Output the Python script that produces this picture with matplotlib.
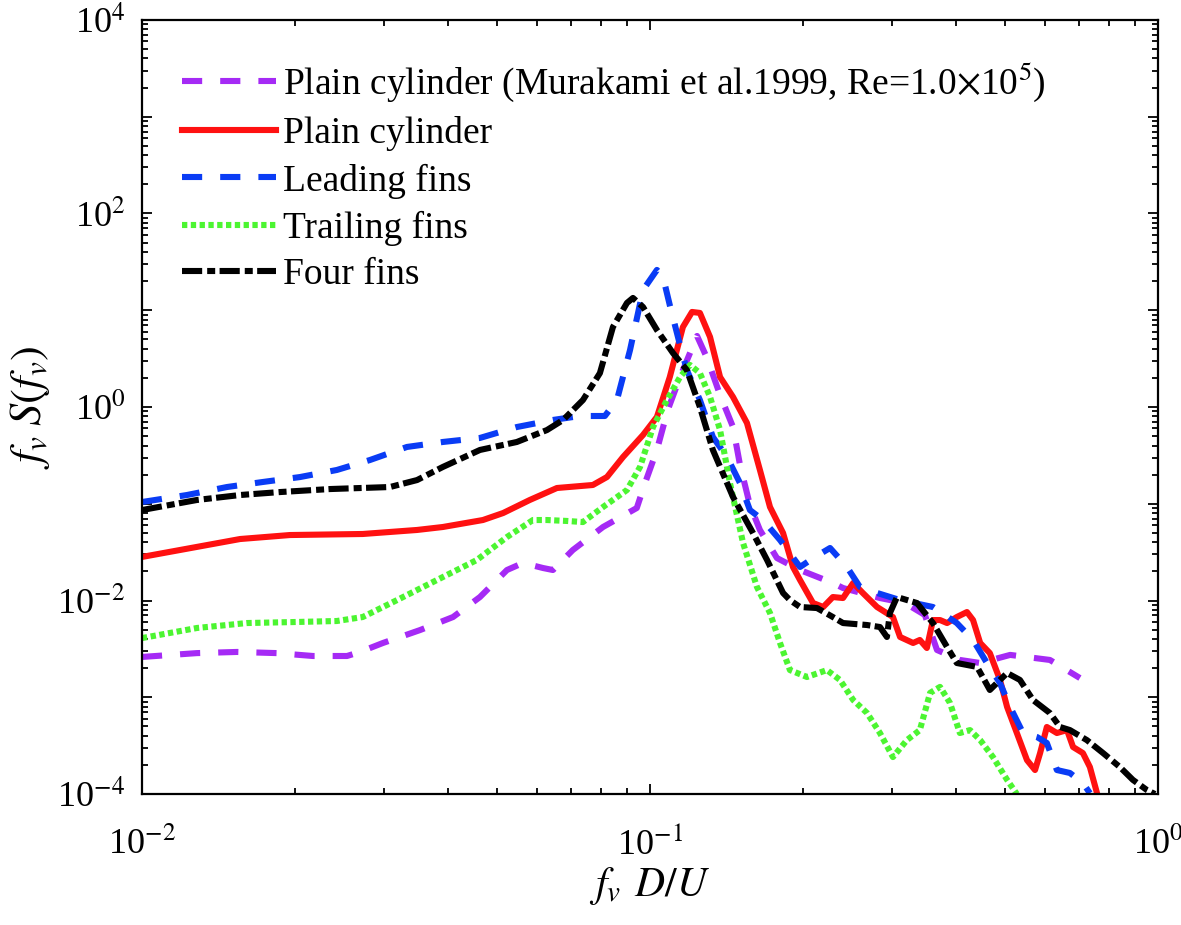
import matplotlib
matplotlib.use("Agg")
import matplotlib.pyplot as plt
from matplotlib.ticker import LogLocator, FuncFormatter, NullFormatter
import numpy as np

plt.rcParams['font.family'] = ['Liberation Serif', 'DejaVu Serif']
plt.rcParams['mathtext.fontset'] = 'stix'

# ---- data ----
murakami_f = [0.01, 0.01283, 0.01538, 0.01844, 0.02171, 0.02533, 0.02687, 0.02981, 0.03527, 0.04096,
              0.04627, 0.0523, 0.05623, 0.06156, 0.06442, 0.0705, 0.08083, 0.0942, 0.0978, 0.1032,
              0.1084, 0.1146, 0.1238, 0.1295, 0.1374, 0.1457, 0.1504, 0.1573, 0.1646, 0.1778,
              0.1974, 0.2291, 0.2399, 0.2836, 0.3177, 0.3477, 0.3673, 0.4074, 0.4467, 0.5117,
              0.6128, 0.702]
murakami_s = [0.00261, 0.00286, 0.00294, 0.00286, 0.00267, 0.00267, 0.00294, 0.00364, 0.00495, 0.00675,
              0.01086, 0.02066, 0.02443, 0.02168, 0.02066, 0.03327, 0.0575, 0.0904, 0.1637, 0.3597,
              0.931, 2.04, 5.42, 3.21, 1.33, 0.621, 0.2518, 0.097, 0.0536, 0.02748,
              0.02066, 0.01517, 0.01346, 0.01061, 0.00942, 0.00708, 0.00308, 0.00243, 0.00226, 0.00274,
              0.00243, 0.00158]

plain_f = [0.01, 0.0156, 0.01955, 0.0272, 0.0348, 0.0391, 0.0469, 0.0514, 0.058, 0.0656,
           0.0772, 0.0823, 0.0885, 0.0969, 0.1032, 0.1094, 0.1161, 0.121, 0.1254, 0.1313,
           0.1374, 0.1457, 0.1552, 0.1646, 0.1723, 0.1828, 0.1912, 0.1974, 0.2094, 0.2193,
           0.2291, 0.2399, 0.2512, 0.2624, 0.2799, 0.3008, 0.3107, 0.3296, 0.3398, 0.3508,
           0.3606, 0.3724, 0.3845, 0.4018, 0.4207, 0.4325, 0.4467, 0.4667, 0.4887, 0.5047,
           0.5275, 0.5523, 0.5728, 0.5861, 0.6043, 0.6324, 0.6622, 0.6806, 0.7116, 0.7345,
           0.7586]
plain_s = [0.0282, 0.0432, 0.0475, 0.0487, 0.0536, 0.0575, 0.0679, 0.0802, 0.1094, 0.1455,
           0.1563, 0.189, 0.304, 0.514, 0.789, 2.04, 6.71, 9.6, 9.38, 5.29,
           2.04, 1.27, 0.684, 0.2234, 0.0925, 0.0499, 0.0222, 0.01629, 0.00942, 0.00857,
           0.01086, 0.01061, 0.01517, 0.01197, 0.00857, 0.00675, 0.0042, 0.00364, 0.00391, 0.00323,
           0.00628, 0.00628, 0.00585, 0.00675, 0.0076, 0.00628, 0.00364, 0.00286, 0.00151, 0.000793,
           0.000427, 0.000224, 0.000177, 0.000265, 0.000493, 0.000427, 0.000458, 0.000306, 0.000265, 0.00019,
           0.000102]

leading_f = [0.01, 0.01226, 0.0147, 0.0173, 0.02047, 0.02419, 0.0281, 0.03324, 0.0391, 0.04627,
             0.0547, 0.06442, 0.07281, 0.08151, 0.0861, 0.09136, 0.0969, 0.1032, 0.1061, 0.1094,
             0.1146, 0.1182, 0.1254, 0.133, 0.1418, 0.1504, 0.1573, 0.1669, 0.1803, 0.1974,
             0.2113, 0.2262, 0.2442, 0.259, 0.2799, 0.3107, 0.3606, 0.4018, 0.4325, 0.4606,
             0.4887, 0.5117, 0.5425, 0.5781, 0.6043, 0.6324, 0.6709, 0.7116, 0.7345]
leading_s = [0.1042, 0.1231, 0.1489, 0.1679, 0.1888, 0.2234, 0.2831, 0.3864, 0.435, 0.4786,
             0.621, 0.7345, 0.8072, 0.8072, 1.18, 3.88, 16.2, 26.1, 22.1, 11.3,
             4.37, 2.41, 1.18, 0.4898, 0.304, 0.1637, 0.0861, 0.0679, 0.0422, 0.0222,
             0.0282, 0.0349, 0.0222, 0.0138, 0.01197, 0.0101, 0.00857, 0.00585, 0.00391, 0.00226,
             0.0014, 0.000793, 0.000427, 0.000388, 0.000337, 0.000177, 0.000165, 0.00013, 0.000102]

trailing_f = [0.01, 0.01283, 0.01609, 0.02018, 0.02419, 0.0272, 0.03177, 0.03808, 0.04563, 0.0523,
              0.05884, 0.0627, 0.06863, 0.0738, 0.08083, 0.0901, 0.09559, 0.1014, 0.108, 0.1146,
              0.1199, 0.1254, 0.1313, 0.1374, 0.1437, 0.1525, 0.1624, 0.1723, 0.1803, 0.1886,
              0.2037, 0.223, 0.2366, 0.2512, 0.2675, 0.2836, 0.3008, 0.3205, 0.3398, 0.356,
              0.3724, 0.3896, 0.4074, 0.4266, 0.4467, 0.4734, 0.5047, 0.5275]
trailing_s = [0.00409, 0.0052, 0.00585, 0.006, 0.00614, 0.00675, 0.0101, 0.01629, 0.02624, 0.0453,
              0.0679, 0.0679, 0.0664, 0.0647, 0.0925, 0.1387, 0.2399, 0.621, 1.18, 2.04,
              2.72, 2.24, 1.27, 0.578, 0.1637, 0.0393, 0.0138, 0.00743, 0.00364, 0.00191,
              0.00162, 0.00191, 0.00151, 0.000937, 0.000687, 0.000427, 0.000241, 0.000361, 0.000458, 0.00111,
              0.00128, 0.000873, 0.000427, 0.000458, 0.000361, 0.000241, 0.00014, 0.0001]

four_f = [0.01, 0.01283, 0.0156, 0.01869, 0.02344, 0.03077, 0.0348, 0.0391, 0.04627, 0.0547,
          0.0627, 0.06745, 0.0738, 0.0797, 0.08455, 0.0901, 0.09258, 0.0969, 0.1032, 0.111,
          0.1182, 0.1254, 0.133, 0.1457, 0.1595, 0.17, 0.1828, 0.1886, 0.1974, 0.2132,
          0.2291, 0.2399, 0.2675, 0.2836, 0.2927, 0.2967, 0.3064, 0.3354, 0.3606, 0.3845,
          0.4018, 0.4404, 0.4667, 0.5047, 0.5349, 0.5675, 0.6128, 0.6414, 0.6709, 0.7244,
          0.7798, 0.8414, 0.8926, 0.951, 0.9865]
four_s = [0.0861, 0.1094, 0.1231, 0.1321, 0.1419, 0.1489, 0.1758, 0.2399, 0.3597, 0.435,
          0.578, 0.7345, 1.18, 2.24, 6.71, 11.9, 13.4, 10.8, 6.25, 3.61,
          2.41, 1.0, 0.3597, 0.1175, 0.0499, 0.02624, 0.01197, 0.0101, 0.00857, 0.00836,
          0.00675, 0.00585, 0.00558, 0.00532, 0.0042, 0.00743, 0.01086, 0.00942, 0.00585, 0.0033,
          0.00226, 0.00206, 0.00119, 0.00178, 0.00151, 0.000937, 0.000687, 0.000493, 0.000458, 0.000361,
          0.000265, 0.00019, 0.00014, 0.00011, 0.0001]

labels = ["Plain cylinder (Murakami et al.1999, Re=1.0$\\times$10$^{5}$)",
          "Plain cylinder", "Leading fins", "Trailing fins", "Four fins"]

# ---- figure ----
fig = plt.figure(figsize=(11.81, 9.25), dpi=100)
ax = fig.add_axes([0.1202, 0.1416, 0.8603, 0.8368])

lw = 4.4
ax.plot(murakami_f, murakami_s, color='#A52AF5', lw=lw, dashes=(3.3, 2.95), label=labels[0])
ax.plot(plain_f, plain_s, color='#FF1111', lw=lw, ls='-', label=labels[1])
ax.plot(leading_f, leading_s, color='#0A3CF5', lw=lw, dashes=(3.3, 2.95), label=labels[2])
ax.plot(trailing_f, trailing_s, color='#4CF531', lw=lw, dashes=(0.87, 0.57), label=labels[3])
ax.plot(four_f, four_s, color='black', lw=lw, dashes=(3.3, 0.82, 1.31, 0.72), label=labels[4])

ax.set_xscale('log')
ax.set_yscale('log')
ax.set_xlim(1e-2, 1)
ax.set_ylim(1e-4, 1e4)

ax.xaxis.set_major_locator(LogLocator(base=10, numticks=10))
ax.xaxis.set_minor_locator(LogLocator(base=10, subs=np.arange(2, 10), numticks=20))
ax.yaxis.set_major_locator(LogLocator(base=10, numticks=20))
ax.yaxis.set_minor_locator(LogLocator(base=10, subs=np.arange(2, 10), numticks=40))

def xfmt(v, pos):
    e = int(round(np.log10(v)))
    return "10$^{%d}$" % e

def yfmt(v, pos):
    e = int(round(np.log10(v)))
    if e % 2 != 0:
        return ""
    return "10$^{%d}$" % e

ax.xaxis.set_major_formatter(FuncFormatter(xfmt))
ax.yaxis.set_major_formatter(FuncFormatter(yfmt))
ax.xaxis.set_minor_formatter(NullFormatter())
ax.yaxis.set_minor_formatter(NullFormatter())

ax.tick_params(which='both', direction='in', top=True, right=True, width=1.3, labelsize=26)
ax.tick_params(which='major', length=7)
ax.tick_params(which='minor', length=4)
ax.tick_params(axis='x', which='major', pad=24)
ax.tick_params(axis='y', which='major', pad=12)
for s in ax.spines.values():
    s.set_linewidth(1.6)

ax.set_xlabel("$f_{v}\\;\\,D/U$", fontsize=30, labelpad=2)
ax.set_ylabel("$f_{v}\\;S(f_{v})$", fontsize=32, labelpad=4)

leg = ax.legend(loc='upper left', frameon=False, fontsize=27, handlelength=2.5,
                handletextpad=0.19, labelspacing=0.32, borderaxespad=0.0, borderpad=0.0,
                bbox_to_anchor=(40 / 1016, 1 - 40 / 774))

fig.savefig("out.png", dpi=100)
